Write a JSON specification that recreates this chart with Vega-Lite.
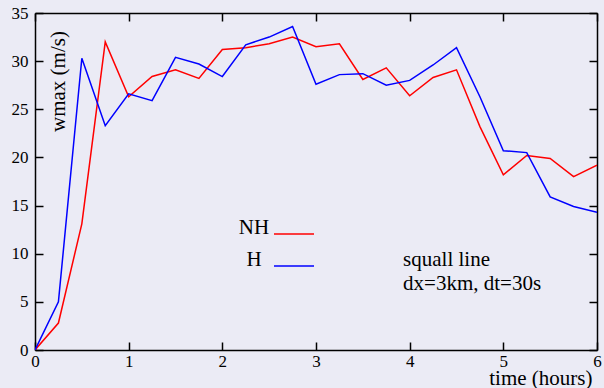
{
  "$schema": "https://vega.github.io/schema/vega-lite/v6.json",
  "width": 562,
  "height": 337,
  "autosize": {"type": "none"},
  "padding": {"left": 35, "top": 13, "right": 7, "bottom": 38},
  "background": "#ebebf5",
  "view": {"stroke": null},
  "config": {
    "font": "Liberation Serif",
    "axis": {
      "grid": false,
      "domainColor": "#000000",
      "domainWidth": 1.5,
      "tickColor": "#000000",
      "tickWidth": 1.5,
      "tickSize": -8,
      "labelColor": "#000000",
      "titleColor": "#000000",
      "labelFont": "Liberation Serif",
      "titleFont": "Liberation Serif",
      "labelFontSize": 17,
      "titleFontSize": 21,
      "titleFontWeight": "normal"
    }
  },
  "data": {
    "values": [
      {"t": 0, "series": "NH", "w": 0},
      {"t": 0.25, "series": "NH", "w": 2.8},
      {"t": 0.5, "series": "NH", "w": 13.1},
      {"t": 0.75, "series": "NH", "w": 32.0},
      {"t": 1.0, "series": "NH", "w": 26.3},
      {"t": 1.25, "series": "NH", "w": 28.4},
      {"t": 1.5, "series": "NH", "w": 29.1},
      {"t": 1.75, "series": "NH", "w": 28.2},
      {"t": 2.0, "series": "NH", "w": 31.2},
      {"t": 2.25, "series": "NH", "w": 31.4},
      {"t": 2.5, "series": "NH", "w": 31.8},
      {"t": 2.75, "series": "NH", "w": 32.5},
      {"t": 3.0, "series": "NH", "w": 31.5},
      {"t": 3.25, "series": "NH", "w": 31.8},
      {"t": 3.5, "series": "NH", "w": 28.1},
      {"t": 3.75, "series": "NH", "w": 29.3},
      {"t": 4.0, "series": "NH", "w": 26.4},
      {"t": 4.25, "series": "NH", "w": 28.3},
      {"t": 4.5, "series": "NH", "w": 29.1},
      {"t": 4.75, "series": "NH", "w": 23.2},
      {"t": 5.0, "series": "NH", "w": 18.2},
      {"t": 5.25, "series": "NH", "w": 20.2},
      {"t": 5.5, "series": "NH", "w": 19.9},
      {"t": 5.75, "series": "NH", "w": 18.0},
      {"t": 6.0, "series": "NH", "w": 19.2},
      {"t": 0, "series": "H", "w": 0},
      {"t": 0.25, "series": "H", "w": 5.0},
      {"t": 0.5, "series": "H", "w": 30.3},
      {"t": 0.75, "series": "H", "w": 23.3},
      {"t": 1.0, "series": "H", "w": 26.6},
      {"t": 1.25, "series": "H", "w": 25.9},
      {"t": 1.5, "series": "H", "w": 30.4},
      {"t": 1.75, "series": "H", "w": 29.7},
      {"t": 2.0, "series": "H", "w": 28.4},
      {"t": 2.25, "series": "H", "w": 31.7},
      {"t": 2.5, "series": "H", "w": 32.5},
      {"t": 2.75, "series": "H", "w": 33.6},
      {"t": 3.0, "series": "H", "w": 27.6},
      {"t": 3.25, "series": "H", "w": 28.6},
      {"t": 3.5, "series": "H", "w": 28.7},
      {"t": 3.75, "series": "H", "w": 27.5},
      {"t": 4.0, "series": "H", "w": 28.0},
      {"t": 4.25, "series": "H", "w": 29.6},
      {"t": 4.5, "series": "H", "w": 31.4},
      {"t": 4.75, "series": "H", "w": 26.3},
      {"t": 5.0, "series": "H", "w": 20.7},
      {"t": 5.25, "series": "H", "w": 20.5},
      {"t": 5.5, "series": "H", "w": 15.9},
      {"t": 5.75, "series": "H", "w": 14.9},
      {"t": 6.0, "series": "H", "w": 14.3}
    ]
  },
  "layer": [
    {
      "mark": {"type": "line", "strokeWidth": 1.5, "clip": true},
      "encoding": {
        "x": {
          "field": "t", "type": "quantitative",
          "scale": {"domain": [0, 6], "nice": false},
          "axis": {
            "orient": "bottom", "values": [0, 1, 2, 3, 4, 5, 6],
            "labelFont": "Liberation Serif", "labelFontSize": 17,
            "title": "time (hours)", "titleX": 557, "titleY": 34,
            "titleAlign": "right", "titleBaseline": "alphabetic",
            "labelPadding": 11, "labelFlush": false
          }
        },
        "y": {
          "field": "w", "type": "quantitative",
          "scale": {"domain": [0, 35], "nice": false},
          "axis": {
            "orient": "left", "values": [0, 5, 10, 15, 20, 25, 30, 35],
            "labelFont": "Liberation Serif", "labelFontSize": 17,
            "title": "wmax (m/s)", "titleX": 29, "titleY": 68,
            "titleAngle": -90, "titleAlign": "center", "titleBaseline": "alphabetic",
            "labelPadding": 15, "labelFlush": false
          }
        },
        "color": {
          "field": "series", "type": "nominal",
          "scale": {"domain": ["NH", "H"], "range": ["#ff0000", "#0000ff"]},
          "legend": {
            "orient": "none", "legendX": 238, "legendY": 200,
            "direction": "vertical",
            "title": null, "padding": 0,
            "symbolType": "stroke", "symbolSize": 1600, "symbolStrokeWidth": 1.5,
            "labelFont": "Liberation Serif", "labelFontSize": 21, "labelColor": "#000000",
            "labelAlign": "center", "labelOffset": -61, "labelBaseline": "alphabetic",
            "rowPadding": 7
          }
        }
      }
    },
    {
      "mark": {"type": "line", "opacity": 0},
      "encoding": {
        "x": {
          "field": "t", "type": "quantitative",
          "axis": {"orient": "top", "values": [0, 1, 2, 3, 4, 5, 6], "labels": false, "title": null}
        },
        "y": {
          "field": "w", "type": "quantitative",
          "axis": {"orient": "right", "values": [0, 5, 10, 15, 20, 25, 30, 35], "labels": false, "title": null}
        },
        "detail": {"field": "series"}
      }
    },
    {
      "data": {"values": [{}]},
      "mark": {
        "type": "text", "text": ["squall line", "dx=3km, dt=30s"],
        "align": "left", "baseline": "alphabetic", "lineHeight": 23.5,
        "font": "Liberation Serif", "fontSize": 21, "color": "#000000"
      },
      "encoding": {
        "x": {"datum": 3.93, "type": "quantitative", "axis": null},
        "y": {"datum": 8.68, "type": "quantitative", "axis": null}
      }
    }
  ],
  "resolve": {"axis": {"x": "independent", "y": "independent"}}
}
